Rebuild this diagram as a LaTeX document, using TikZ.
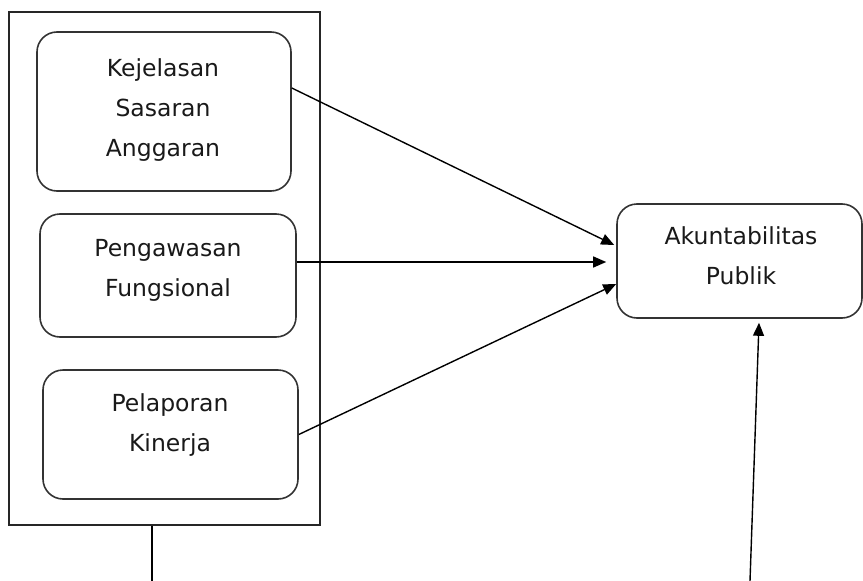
\documentclass[tikz,border=0pt]{standalone}
\usepackage{fontspec}
\setmainfont{DejaVu Sans}
\usetikzlibrary{arrows.meta}
\begin{document}
\begin{tikzpicture}[x=1pt,y=-1pt,
  box/.style={draw=black!80, line width=1.6pt, rounded corners=20pt, inner sep=0pt},
  outerbox/.style={draw=black!85, line width=1.7pt, inner sep=0pt},
  lbl/.style={anchor=north, inner sep=0pt, align=center, font=\fontsize{23.5}{40}\selectfont, text=black!90},
  conn/.style={line width=1.4pt, -{Triangle[length=13pt,width=11pt]}},
  plain/.style={line width=1.4pt}]
\useasboundingbox (0,0) rectangle (863,581);
\node[outerbox, minimum width=311pt, minimum height=513pt] (outer) at (164.5,268.5) {};
\node[box, minimum width=254pt, minimum height=159pt] (b1) at (164,111.5) {};
\node[box, minimum width=256pt, minimum height=123pt] (b2) at (168,275.5) {};
\node[box, minimum width=255pt, minimum height=129pt] (b3) at (170.5,434.5) {};
\node[box, minimum width=245pt, minimum height=114pt] (r) at (739.5,261) {};
\node[lbl] (t1) at (163,58) {Kejelasan\\Sasaran\\Anggaran};
\node[lbl] (t2) at (168,239) {Pengawasan\\Fungsional};
\node[lbl] (t3) at (170,393) {Pelaporan\\Kinerja};
\node[lbl] (tr) at (741,226) {Akuntabilitas\\Publik};
\draw[conn] ([yshift=23.5pt]b1.east) -- ([xshift=-2pt,yshift=16pt]r.west);
\draw[conn] ([yshift=13.5pt]b2.east) -- ([xshift=-10pt,yshift=-1pt]r.west);
\draw[conn] (b3.east) -- ([yshift=-23pt]r.west);
\coordinate (o1) at (152,581);
\draw[plain] (outer.south -| o1) -- (o1);
\coordinate (o2) at (750,581);
\draw[conn] (o2) -- ([xshift=19.5pt,yshift=-4pt]r.south);
\end{tikzpicture}
\end{document}
